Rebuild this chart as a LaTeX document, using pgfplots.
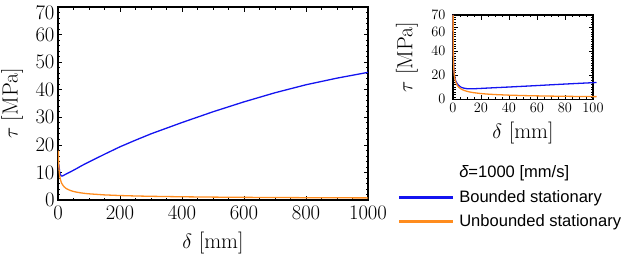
\documentclass[border=0pt]{standalone}
\usepackage{fontspec}
\usepackage{pgfplots}
\pgfplotsset{compat=1.18}
\newfontfamily\legfont{Liberation Sans}
\definecolor{cblue}{RGB}{20,20,240}
\definecolor{corange}{RGB}{255,140,30}
\newcommand\lab{\fontsize{22}{26}\selectfont}
\pgfplotsset{
  frm/.style={
    scale only axis,
    tick align=inside,
    tick style={black, line width=0.7bp},
    axis line style={line width=1.1bp},
    major tick length=4.5bp, minor tick length=2.5bp,
    /pgf/number format/1000 sep={},
    scaled ticks=false,
  }
}
\begin{document}
\begin{tikzpicture}
\begin{axis}[frm,
  at={(0bp,0bp)}, anchor=south west,
  width=310bp, height=193bp,
  xmin=0, xmax=1000, ymin=0, ymax=70,
  xtick={0,200,...,1000}, ytick={0,10,...,60},
  extra y ticks={70},
  extra y tick style={yticklabel style={yshift=-6bp}},
  minor x tick num=3, minor ytick={2,4,...,68},
  ticklabel style={font=\fontsize{22}{26}\selectfont},
  xticklabel style={yshift=-3bp},
  xlabel={\lab $\delta$ [mm]}, ylabel={\lab $\tau$ [MPa]},
  xlabel style={at={(axis description cs:0.5,-0.2235)}, anchor=center},
  ylabel style={at={(axis description cs:-0.148,0.5)}, anchor=center},
]
\addplot[color=cblue, line width=1.3bp] coordinates {
(3,12.9)(4,11.6)(5,10.6)(6,9.9)(8,9.2)(10,8.8)(12,8.7)(15,8.75)(20,9.05)(25,9.35)(30,9.64)(40,10.2)(50,10.8)(60,11.4)(70,12.05)(80,12.66)(90,13.25)(100,13.8)(150,16.6)(200,19.3)(250,21.7)(300,24.0)(400,28.1)(500,32.0)(600,35.6)(700,38.9)(800,41.8)(900,44.2)(1000,46.3)
};
\addplot[color=corange, line width=1.3bp] coordinates {
(1.2,17.9)(1.5,16.1)(2,14.1)(3,11.6)(4,10.2)(5,9.15)(6,8.40)(8,7.34)(10,6.61)(12,6.06)(15,5.46)(20,4.77)(25,4.29)(30,3.94)(40,3.44)(50,3.10)(60,2.85)(70,2.65)(80,2.49)(90,2.35)(100,2.24)(150,1.85)(200,1.62)(250,1.46)(300,1.34)(400,1.17)(500,1.05)(600,0.96)(700,0.90)(800,0.84)(900,0.80)(1000,0.76)
};
\end{axis}
\begin{axis}[frm,
  at={(395bp,100.7bp)}, anchor=south west,
  width=140bp, height=84.3bp,
  xmin=0, xmax=100, ymin=0, ymax=70,
  xtick={0,20,...,100}, ytick={0,20,40,70},
  extra y ticks={60},
  extra y tick style={yticklabel style={yshift=-5bp}},
  minor xtick={5,10,...,95}, minor ytick={2,4,...,68},
  clip=false,
  ticklabel style={font=\fontsize{15}{18}\selectfont},
  yticklabel style={xshift=-4bp},
  xlabel={\lab $\delta$ [mm]}, ylabel={\lab $\tau$ [MPa]},
  xlabel style={at={(axis description cs:0.5,-0.40)}, anchor=center},
  ylabel style={at={(axis description cs:-0.33,0.5)}, anchor=center},
  legend style={at={(axis description cs:-0.3857,-0.7675)}, anchor=north west,
    draw=white, fill=white, inner sep=0pt, outer sep=0pt,
    font=\legfont\fontsize{16.6}{19}\selectfont,
    row sep=7bp, column sep=4bp},
  legend cell align=left,
]
\addlegendimage{empty legend}
\addlegendentry{{\itshape δ}=1000 [mm/s]}
\addplot[color=cblue, line width=1.3bp,
  legend image code/.code={\fill[cblue] (0bp,-0.75bp) rectangle (53bp,0.75bp);}] coordinates {
(0.067,70.1)(0.08,64.1)(0.1,57.7)(0.15,47.85)(0.2,41.9)(0.3,34.7)(0.5,27.5)(0.7,23.7)(1,20.2)(1.5,17.0)(2,15.1)(3,12.9)(4,11.6)(5,10.6)(6,9.9)(8,9.2)(10,8.8)(12,8.7)(15,8.75)(20,9.05)(25,9.35)(30,9.64)(40,10.2)(50,10.8)(60,11.4)(70,12.05)(80,12.66)(90,13.25)(100,13.8)(102.5,13.95)
};
\addlegendentry{Bounded stationary}
\addplot[color=corange, line width=1.3bp,
  legend image code/.code={\fill[corange] (0bp,-0.75bp) rectangle (53bp,0.75bp);}] coordinates {
(0.067,70.0)(0.08,63.9)(0.1,57.5)(0.15,47.6)(0.2,41.6)(0.3,34.3)(0.5,27.0)(0.7,23.1)(1,19.5)(1.5,16.1)(2,14.1)(3,11.6)(4,10.2)(5,9.15)(6,8.40)(8,7.34)(10,6.61)(12,6.06)(15,5.46)(20,4.77)(25,4.29)(30,3.94)(40,3.44)(50,3.10)(60,2.85)(70,2.65)(80,2.49)(90,2.35)(100,2.24)(102.5,2.21)
};
\addlegendentry{Unbounded stationary}
\end{axis}
\pgfresetboundingbox
\path (-58bp,-55bp) rectangle (564bp,200bp);
\end{tikzpicture}
\end{document}
